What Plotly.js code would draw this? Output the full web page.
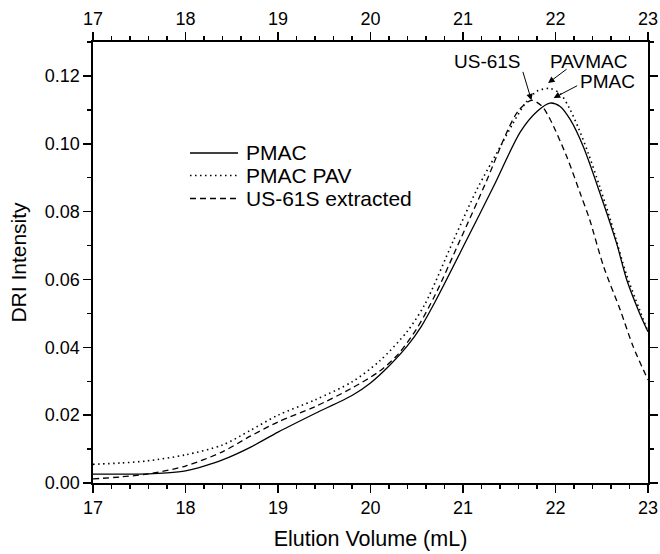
<!DOCTYPE html>
<html>
<head>
<meta charset="utf-8">
<script src="https://cdn.plot.ly/plotly-3.0.1.min.js"></script>
<style>html,body{margin:0;padding:0;background:#fff;}#chart{width:660px;height:554px;}</style>
</head>
<body>
<div id="chart"></div>
<script>
// PMAC (solid)
const pmacX = [17.0, 17.3, 17.6, 17.8, 18.0, 18.2, 18.4, 18.7, 19.0, 19.4, 19.8, 20.0, 20.2, 20.4, 20.55, 20.7, 21.04, 21.33, 21.62, 21.8, 21.94, 22.05, 22.16, 22.3, 22.48, 22.66, 22.77, 22.91, 23.0];
const pmacY = [0.0026, 0.0026, 0.0027, 0.0030, 0.0036, 0.0050, 0.0068, 0.0105, 0.0150, 0.0205, 0.0258, 0.0295, 0.0345, 0.0405, 0.0462, 0.0535, 0.0717, 0.0874, 0.1035, 0.1095, 0.1120, 0.1110, 0.1071, 0.0992, 0.0855, 0.0707, 0.0599, 0.0500, 0.0446];
// PMAC PAV (dotted)
const pavX = [17.0, 17.3, 17.58, 18.0, 18.4, 18.7, 19.0, 19.4, 19.8, 20.1, 20.4, 20.59, 20.9, 21.15, 21.4, 21.54, 21.67, 21.8, 21.94, 22.05, 22.15, 22.25, 22.35, 22.48, 22.6, 22.77, 22.91, 23.0];
const pavY = [0.0055, 0.0059, 0.0065, 0.0083, 0.0112, 0.0155, 0.0200, 0.0245, 0.0298, 0.0360, 0.0448, 0.0528, 0.0717, 0.0865, 0.0990, 0.1060, 0.1118, 0.1155, 0.1163, 0.1148, 0.1105, 0.1045, 0.0975, 0.0872, 0.0770, 0.0612, 0.0510, 0.0446];
// US-61S extracted (dashed)
const usX = [17.0, 17.3, 17.58, 18.0, 18.4, 18.7, 19.0, 19.4, 19.8, 20.1, 20.3, 20.5, 20.7, 20.97, 21.26, 21.47, 21.6, 21.74, 21.85, 21.94, 22.12, 22.27, 22.37, 22.52, 22.7, 22.84, 23.0];
const usY = [0.0012, 0.0018, 0.0026, 0.0050, 0.0092, 0.0138, 0.0180, 0.0225, 0.0280, 0.0330, 0.0380, 0.0455, 0.0555, 0.0717, 0.0894, 0.1032, 0.1098, 0.1128, 0.1112, 0.1073, 0.0963, 0.0852, 0.0776, 0.0638, 0.0510, 0.0402, 0.0304];

const seriesNames = ["PMAC", "PMAC PAV", "US-61S extracted"];
const xTicks = [17, 18, 19, 20, 21, 22, 23];
const yTicks = [0.00, 0.02, 0.04, 0.06, 0.08, 0.10, 0.12];
const yTickText = ["0.00", "0.02", "0.04", "0.06", "0.08", "0.10", "0.12"];
const peakLabels = ["US-61S", "PAVMAC", "PMAC"];

const FONT = "Arial, 'Liberation Sans', sans-serif";
const styles = [
  {color: "#000", width: 1.3, dash: "solid"},
  {color: "#000", width: 1.6, dash: "1.5px,3.5px"},
  {color: "#000", width: 1.3, dash: "6px,4px"}
];

const seriesX = [pmacX, pavX, usX];
const seriesY = [pmacY, pavY, usY];
const traces = seriesX.map((xs, i) => ({
  x: xs, y: seriesY[i], name: seriesNames[i], mode: "lines",
  line: Object.assign({shape: "spline", smoothing: 0.8}, styles[i]), showlegend: false
}));
traces.push({x: [17, 23], y: [null, null], xaxis: "x2", yaxis: "y", showlegend: false, hoverinfo: "skip", mode: "lines"});

const axisCommon = {
  showgrid: false, zeroline: false, showline: true, linecolor: "#000", linewidth: 1.6,
  ticks: "outside", ticklen: 8, tickwidth: 1.6, tickcolor: "#000",
  tickfont: {family: FONT, size: 18, color: "#000"}
};
const minorX = {dtick: 0.2, tick0: 17, ticks: "outside", ticklen: 4, tickwidth: 1.3, tickcolor: "#000"};

// legend drawn in paper coordinates
const legendRows = [0.7483, 0.6973, 0.6451];
const legendShapes = legendRows.map((ry, i) => ({
  type: "line", xref: "paper", yref: "paper", x0: 0.1748, x1: 0.2613, y0: ry, y1: ry,
  line: {color: styles[i].color, width: styles[i].width, dash: styles[i].dash}
}));
const legendTexts = legendRows.map((ry, i) => ({
  xref: "paper", yref: "paper", x: 0.2721, y: ry, xanchor: "left", yanchor: "middle",
  text: seriesNames[i], showarrow: false, font: {family: FONT, size: 21, color: "#000"}
}));

const arrowStyle = {xref: "x", yref: "y", text: "", showarrow: true, arrowhead: 2, arrowsize: 1.3, arrowwidth: 1, arrowcolor: "#000"};

const layout = {
  width: 660, height: 554,
  margin: {l: 93, r: 12, t: 42, b: 71},
  paper_bgcolor: "#fff", plot_bgcolor: "#fff",
  font: {family: FONT, color: "#000"},
  showlegend: false,
  xaxis: Object.assign({}, axisCommon, {
    range: [17, 23], tickvals: xTicks, ticktext: xTicks.map(String), minor: minorX,
    title: {text: "Elution Volume (mL)", font: {family: FONT, size: 21.5, color: "#000"}, standoff: 14}
  }),
  xaxis2: Object.assign({}, axisCommon, {
    range: [17, 23], overlaying: "x", side: "top", anchor: "y", tickvals: xTicks, ticktext: xTicks.map(String), minor: minorX
  }),
  yaxis: Object.assign({}, axisCommon, {
    range: [0, 0.13], tickvals: yTicks, ticktext: yTickText, mirror: "ticks",
    minor: {dtick: 0.01, tick0: 0, ticks: "outside", ticklen: 4, tickwidth: 1.3, tickcolor: "#000"},
    title: {text: "DRI Intensity", font: {family: FONT, size: 21, color: "#000"}, standoff: 12}
  }),
  shapes: legendShapes,
  annotations: legendTexts.concat([
    Object.assign({x: 21.74, y: 0.1128, ax: -9, ay: -30}, arrowStyle),
    Object.assign({x: 21.92, y: 0.1179, ax: 20, ay: -15}, arrowStyle),
    Object.assign({x: 21.98, y: 0.1135, ax: 25, ay: -13}, arrowStyle),
    {x: 21.27, y: 0.1242, xref: "x", yref: "y", text: peakLabels[0], showarrow: false, font: {family: FONT, size: 19, color: "#000"}},
    {x: 22.36, y: 0.1243, xref: "x", yref: "y", text: peakLabels[1], showarrow: false, font: {family: FONT, size: 19, color: "#000"}},
    {x: 22.56, y: 0.1184, xref: "x", yref: "y", text: peakLabels[2], showarrow: false, font: {family: FONT, size: 19, color: "#000"}}
  ])
};

Plotly.newPlot("chart", traces, layout, {displayModeBar: false, staticPlot: true});
</script>
</body>
</html>
